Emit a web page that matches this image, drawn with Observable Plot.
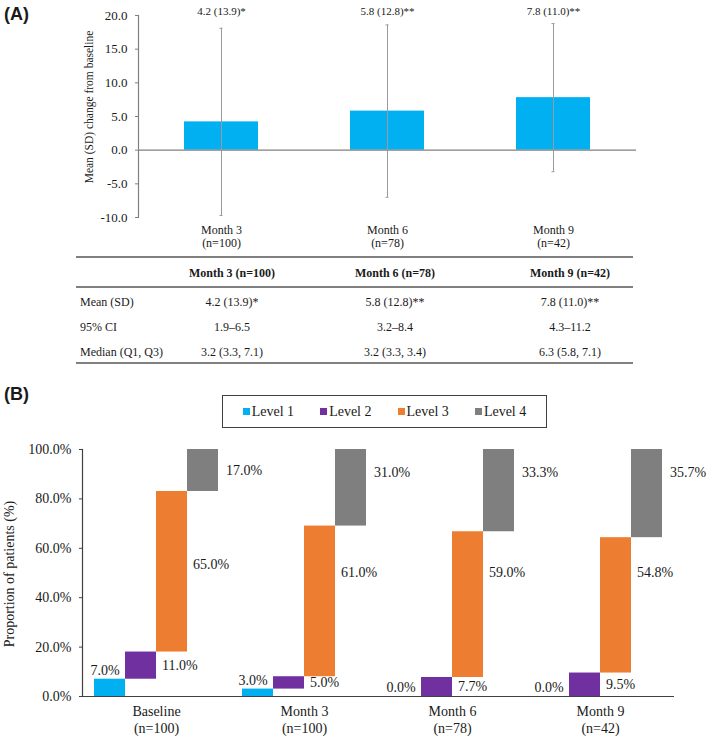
<!DOCTYPE html>
<html><head><meta charset="utf-8">
<script src="https://cdn.jsdelivr.net/npm/d3@7"></script>
<script src="https://cdn.jsdelivr.net/npm/@observablehq/plot@0.6"></script>
<style>
body{margin:0;background:#fff;}
#root{position:relative;width:709px;height:737px;overflow:hidden;font-family:"Liberation Serif","Times New Roman",serif;color:#1a1a1a;}
.abs{position:absolute;white-space:nowrap;line-height:1;}
.hline{position:absolute;height:0;border-top:2px solid #808080;}
svg{position:absolute;left:0;}
</style></head><body><div id="root"></div>
<script>
// ---------- Panel A data ----------
const months = ["Month 3", "Month 6", "Month 9"];
const nA = [100, 78, 42];
const means = [4.2, 5.8, 7.8];
const sds = [13.9, 12.8, 11.0];
const signif = ["*", "**", "**"];
const ci95 = ["1.9–6.5", "3.2–8.4", "4.3–11.2"];
const medians = ["3.2 (3.3, 7.1)", "3.2 (3.3, 3.4)", "6.3 (5.8, 7.1)"];
const yTicksA = [-10, -5, 0, 5, 10, 15, 20];

// ---------- Panel B data ----------
const timepoints = ["Baseline", "Month 3", "Month 6", "Month 9"];
const nB = [100, 100, 78, 42];
const levels = ["Level 1", "Level 2", "Level 3", "Level 4"];
const level1 = [7.0, 3.0, 0.0, 0.0];
const level2 = [11.0, 5.0, 7.7, 9.5];
const level3 = [65.0, 61.0, 59.0, 54.8];
const level4 = [17.0, 31.0, 33.3, 35.7];
const levelColors = ["#00B0F0", "#7030A0", "#ED7D31", "#7F7F7F"];
const yTicksB = [0, 20, 40, 60, 80, 100];

const root = document.getElementById("root");
function put(html, x, y, anchor, style) {
  const d = document.createElement("div");
  d.className = "abs";
  d.innerHTML = html;
  d.style.left = x + "px";
  d.style.top = y + "px";
  const tx = anchor === "middle" ? "-50%" : anchor === "end" ? "-100%" : "0";
  d.style.transform = `translate(${tx},-50%)` + (style && style.rotate ? " rotate(-90deg)" : "");
  if (style) for (const k in style) if (k !== "rotate") d.style[k] = style[k];
  root.appendChild(d);
  return d;
}
function hline(x1, x2, y) {
  const d = document.createElement("div");
  d.className = "hline";
  d.style.left = x1 + "px"; d.style.width = (x2 - x1) + "px"; d.style.top = (y - 1) + "px";
  root.appendChild(d);
}

// ---------- Panel A ----------
const dataA = months.map((m, i) => ({month: m, n: nA[i], mean: means[i], sd: sds[i], sig: signif[i]}));
const plotA = Plot.plot({
  width: 709, height: 250,
  marginLeft: 138, marginRight: 73, marginTop: 15, marginBottom: 33,
  style: {fontFamily: "'Liberation Serif', 'Times New Roman', serif", fontSize: "12px", color: "#1a1a1a", background: "transparent"},
  x: {domain: months, paddingInner: 0.554, paddingOuter: 0.277, label: null},
  y: {domain: [-10, 20], label: null},
  marks: [
    Plot.barY(dataA, {x: "month", y: "mean", fill: "#00B0F0"}),
    Plot.ruleY([0], {stroke: "#808080", strokeWidth: 1.2}),
    Plot.ruleX(dataA, {x: "month", y1: d => d.mean - d.sd, y2: d => d.mean + d.sd, stroke: "#9a9a9a", strokeWidth: 1}),
    Plot.tickY(dataA, {x: "month", y: d => d.mean + d.sd, stroke: "#9a9a9a", insetLeft: 35.5, insetRight: 35.5}),
    Plot.tickY(dataA, {x: "month", y: d => d.mean - d.sd, stroke: "#9a9a9a", insetLeft: 35.5, insetRight: 35.5}),
    Plot.text(dataA, {x: "month", frameAnchor: "top", dy: -8, fontSize: 11,
      text: d => `${d.mean.toFixed(1)} (${d.sd.toFixed(1)})${d.sig}`}),
    Plot.frame({anchor: "left", stroke: "#808080", strokeWidth: 1.2}),
    Plot.axisY({ticks: yTicksA, tickFormat: d => d.toFixed(1), tickSize: 3, tickPadding: 8, fontSize: 13, stroke: "#808080", label: null}),
    Plot.axisX({tickSize: 0, tickPadding: 8, fontSize: 12, lineHeight: 1.05, label: null,
      tickFormat: m => `${m}\n(n=${nA[months.indexOf(m)]})`})
  ]
});
plotA.style.top = "0px";
root.appendChild(plotA);

put("(A)", 4, 14, "start", {fontFamily: "'Liberation Sans', Arial, sans-serif", fontWeight: "bold", fontSize: "18px"});
put("Mean (SD) change from baseline", 90, 107, "middle", {rotate: true, fontSize: "11.5px"});

// ---------- Table ----------
const colX = [232, 395, 570];
hline(76, 633, 257);
hline(76, 633, 287);
hline(76, 633, 363);
months.forEach((m, i) => {
  put(`${m} (n=${nA[i]})`, colX[i], 273, "middle", {fontWeight: "bold", fontSize: "12px"});
  put(`${means[i].toFixed(1)} (${sds[i].toFixed(1)})${signif[i]}`, colX[i], 302, "middle", {fontSize: "12px"});
  put(ci95[i], colX[i], 327, "middle", {fontSize: "12px"});
  put(medians[i], colX[i], 352, "middle", {fontSize: "12px"});
});
put("Mean (SD)", 80, 302, "start", {fontSize: "12px"});
put("95% CI", 80, 327, "start", {fontSize: "12px"});
put("Median (Q1, Q3)", 80, 352, "start", {fontSize: "12px"});

// ---------- Panel B ----------
put("(B)", 4, 394, "start", {fontFamily: "'Liberation Sans', Arial, sans-serif", fontWeight: "bold", fontSize: "18px"});

// legend
const leg = document.createElement("div");
leg.style.cssText = "position:absolute;left:222px;top:395px;width:323px;height:31px;border:1px solid #404040;display:flex;align-items:center;justify-content:center;gap:26px;font-size:14px;";
levels.forEach((lv, j) => {
  const it = document.createElement("div");
  it.style.cssText = "display:flex;align-items:center;gap:2px;";
  it.innerHTML = `<span style="display:inline-block;width:7px;height:7px;background:${levelColors[j]}"></span><span>${lv}</span>`;
  leg.appendChild(it);
});
root.appendChild(leg);

put("Proportion of patients (%)", 10, 574, "middle", {rotate: true, fontSize: "14px"});

const levelValues = [level1, level2, level3, level4];
const rowsB = [];
timepoints.forEach((t, i) => {
  let cum = 0;
  levels.forEach((lv, j) => {
    const v = levelValues[j][i];
    rowsB.push({time: t, level: lv, value: v, start: cum, end: cum + v});
    cum += v;
  });
});
const fmtPct = d => d.value.toFixed(1) + "%";
const byLevel = lv => rowsB.filter(d => d.level === lv);

const plotB = Plot.plot({
  width: 709, height: 297,
  marginLeft: 82, marginRight: 35, marginTop: 9, marginBottom: 41,
  style: {fontFamily: "'Liberation Serif', 'Times New Roman', serif", fontSize: "14px", color: "#1a1a1a", background: "transparent"},
  fx: {domain: timepoints, padding: 0, label: null},
  x: {domain: levels, paddingInner: 0, paddingOuter: 0.387, axis: null},
  y: {domain: [0, 100], label: null},
  color: {domain: levels, range: levelColors},
  marks: [
    Plot.barY(rowsB, {fx: "time", x: "level", y1: "start", y2: "end", fill: "level"}),
    Plot.ruleY([0], {stroke: "#404040", strokeWidth: 1.2}),
    Plot.frame({anchor: "left", facetAnchor: "left", stroke: "#404040", strokeWidth: 1.2}),
    Plot.axisY({ticks: yTicksB, tickFormat: d => d.toFixed(1) + "%", tickSize: 3, tickPadding: 8, fontSize: 14, stroke: "#404040", label: null}),
    Plot.axisFx({anchor: "bottom", tickSize: 0, tickPadding: 8, fontSize: 14, lineHeight: 1.2, label: null,
      tickFormat: t => `${t}\n(n=${nB[timepoints.indexOf(t)]})`}),
    Plot.text(byLevel("Level 1"), {fx: "time", x: "level", y: "end", text: fmtPct, dy: -9, dx: -5, fontSize: 14}),
    Plot.text(byLevel("Level 2"), {fx: "time", x: "level", y: d => (d.start + d.end) / 2, text: fmtPct, textAnchor: "start", dx: 21, fontSize: 14}),
    Plot.text(byLevel("Level 3"), {fx: "time", x: "level", y: d => Math.max((d.start + d.end) / 2 + 3, 50), text: fmtPct, textAnchor: "start", dx: 21, fontSize: 14}),
    Plot.text(byLevel("Level 4"), {fx: "time", x: "level", y: d => d.end - Math.min(d.value / 2, 9.5), text: fmtPct, textAnchor: "start", dx: 23, fontSize: 14})
  ]
});
plotB.style.top = "440px";
root.appendChild(plotB);
</script>
</body></html>
